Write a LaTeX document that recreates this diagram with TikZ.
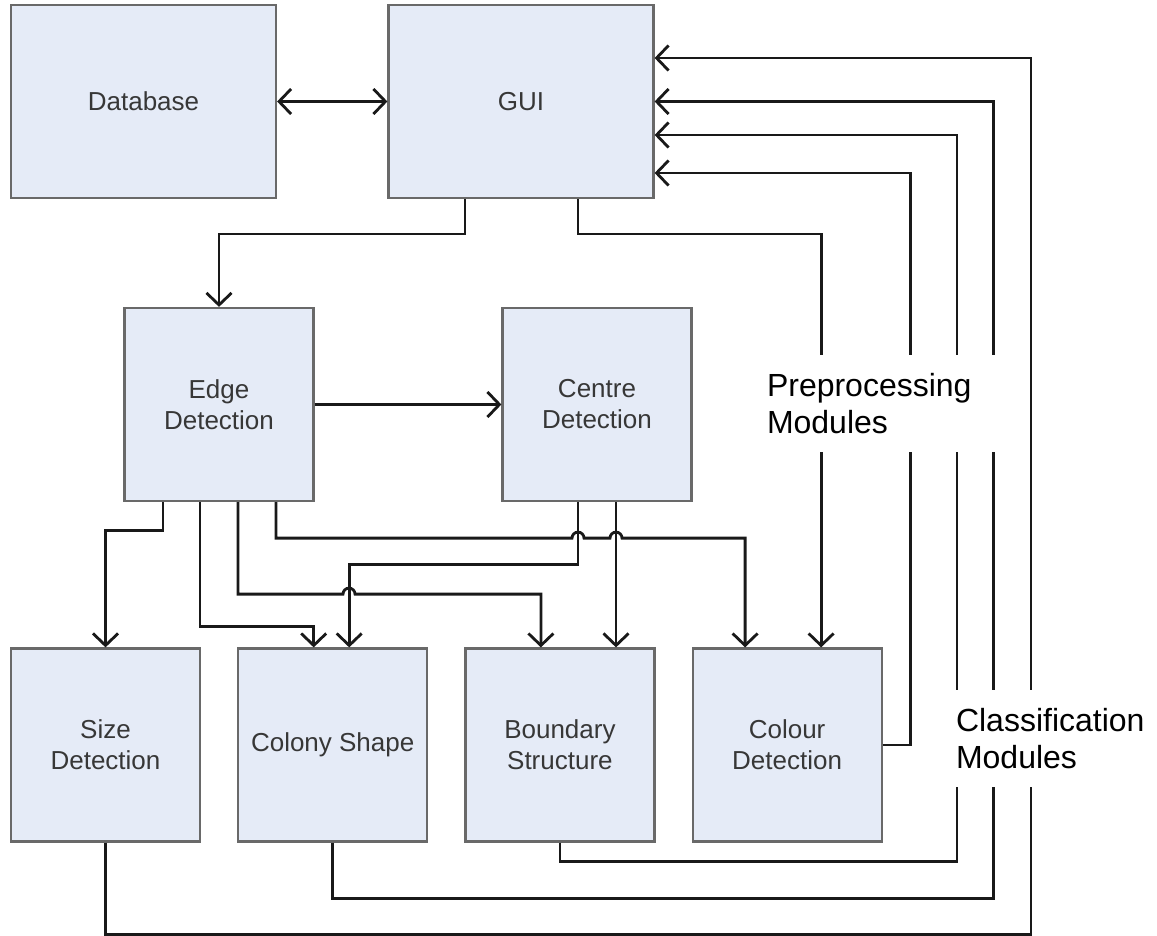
\documentclass[tikz,border=0pt]{standalone}
\usepackage{fontspec}
\setmainfont{Liberation Sans}
\usepackage{xcolor}
\usetikzlibrary{arrows.meta, positioning}
\definecolor{modfill}{RGB}{229,235,247}
\definecolor{modedge}{RGB}{105,105,105}
\definecolor{modtext}{RGB}{55,55,55}
\definecolor{linkcol}{RGB}{25,25,25}

\begin{document}
\begin{tikzpicture}[
  x=1pt, y=1pt,
  module/.style={rectangle, draw=modedge, fill=modfill, line width=2.2pt,
    minimum width=189pt, minimum height=193pt, align=center, inner sep=0pt,
    text=modtext, font=\fontsize{26}{31}\selectfont},
  bigmodule/.style={module, minimum width=265pt},
  arrow/.style={-{Straight Barb[length=12pt,width=25pt]},
    line width=2.8pt, draw=linkcol},
  group/.style={rectangle, fill=white, align=left, inner xsep=7pt,
    inner ysep=0pt, text=black, font=\fontsize{32}{37}\selectfont}
]
\useasboundingbox (0,0) rectangle (1157,-936);

% Top row
\node[bigmodule] (db) at (143.5,-101.5) {Database};
\node[bigmodule] (gui) at (521,-101.5) {GUI};

% Preprocessing row
\node[module] (edge) at (219,-404.5) {Edge\\Detection};
\node[module] (centre) at (597,-404.5) {Centre\\Detection};

% Classification row
\node[module] (size) at (105.5,-745) {Size\\Detection};
\node[module, right=36pt of size] (colony) {Colony Shape};
\node[module, right=36pt of colony] (boundary) {Boundary\\Structure};
\node[module, right=36pt of boundary] (colour) {Colour\\Detection};

% Database <-> GUI
\draw[arrow, {Straight Barb[length=12pt,width=25pt]}-{Straight Barb[length=12pt,width=25pt]}]
  (db) -- (gui);

% GUI to preprocessing
\draw[arrow] ([xshift=-56]gui.south) -- ++(0,-35) -| (edge.north);
\draw[arrow] ([xshift=57]gui.south) -- ++(0,-35) -| ([xshift=34]colour.north);
\draw[arrow] (edge.east) -- (edge.east -| centre.west);

% Edge detection to classifiers
\draw[arrow] ([xshift=-56]edge.south) -- ++(0,-28) -| (size.north);
\draw[arrow] ([xshift=-19]edge.south) -- ++(0,-124) -| ([xshift=-19]colony.north);
\draw[arrow] ([xshift=19]edge.south) -- ++(0,-92) -- ++(105,0)
  arc[start angle=180, end angle=0, radius=6pt]
  -| ([xshift=-19]boundary.north);
\draw[arrow] ([xshift=57]edge.south) -- ++(0,-36) -- ++(296,0)
  arc[start angle=180, end angle=0, radius=6pt] -- ++(26,0)
  arc[start angle=180, end angle=0, radius=6pt]
  -| ([xshift=-42]colour.north);

% Centre detection to classifiers
\draw[arrow] ([xshift=-19]centre.south) -- ++(0,-62) -| ([xshift=16.5]colony.north);
\draw[arrow] ([xshift=19]centre.south) -- ([xshift=19]centre.south |- boundary.north);

% Classifiers back to GUI
\draw[arrow] (colour.east) -- ++(28,0) |- ([yshift=-71.5]gui.east);
\draw[arrow] (boundary.south) -- ++(0,-19) -- ++(397,0) |- ([yshift=-33.5]gui.east);
\draw[arrow] (colony.south) -- ++(0,-56) -- ++(660.5,0) |- (gui.east);
\draw[arrow] (size.south) -- ++(0,-92) -- ++(925.5,0) |- ([yshift=43.5]gui.east);

% Group labels
\node[group, text width=231pt, minimum width=245pt, minimum height=97pt]
  (prelbl) at (882.5,-403.5) {Preprocessing\\Modules};
\node[group, inner xsep=4pt, text width=192pt, minimum width=200pt,
  minimum height=97pt] (clslbl) at (1052,-738.5) {Classification\\Modules};
\end{tikzpicture}
\end{document}
